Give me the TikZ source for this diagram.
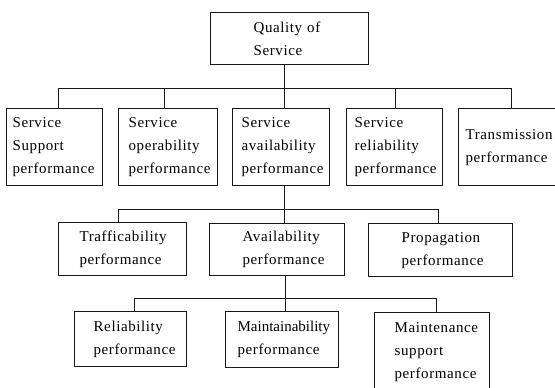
\documentclass[tikz,border=0pt]{standalone}
\usepackage{fontspec}
\setmainfont{Liberation Serif}[LetterSpace=4,Ligatures=NoCommon]
\begin{document}
\begin{tikzpicture}[x=1pt,y=1pt,
  box/.style={draw=black!90, line width=1.3pt, align=left, anchor=north west,
    inner ysep=0pt, font=\fontsize{15}{23}\selectfont, text=black},
  link/.style={draw=black!90, line width=1.1pt}]
\useasboundingbox (0,0) rectangle (555,-388);

% top level
\node[box, minimum width=158, minimum height=52, text width=72, inner xsep=43] (Q) at (210,-12) {Quality of\\Service};

% first level
\node[box, minimum width=96, minimum height=77, text width=84, inner xsep=6] (S1) at (6,-108) {Service\\Support\\performance};
\node[box, minimum width=99, minimum height=77, text width=79, inner xsep=10] (S2) at (118,-108) {Service\\operability\\performance};
\node[box, minimum width=97, minimum height=77, text width=79, inner xsep=9] (S3) at (232,-108) {Service\\availability\\performance};
\node[box, minimum width=96, minimum height=77, text width=80, inner xsep=8] (S4) at (346,-108) {Service\\reliability\\performance};
\node[box, minimum width=104, minimum height=77, text width=90, inner xsep=7] (S5) at (458,-108) {Transmission\\performance};

% second level
\node[box, minimum width=128, minimum height=53, text width=86, inner xsep=21] (A) at (58,-222) {Trafficability\\performance};
\node[box, minimum width=135, minimum height=52, text width=69, inner xsep=33] (B) at (209,-223) {Availability\\performance};
\node[box, minimum width=144, minimum height=53, text width=78, inner xsep=33] (C) at (368,-223) {Propagation\\performance};

% third level
\node[box, minimum width=112, minimum height=55, text width=74, inner xsep=19] (R) at (74,-311) {Reliability\\performance};
\node[box, minimum width=113, minimum height=56, text width=89, inner xsep=12] (M) at (225,-311) {{\addfontfeature{LetterSpace=0}Maintainability}\\performance};
\node[box, minimum width=115, minimum height=78, text width=75, inner xsep=20] (MS) at (374,-312) {Maintenance\\support\\performance};

% connectors: Quality of Service to first level
\draw[link] ([xshift=-5]Q.south) -- ++(0,-23) -| ([xshift=4]S1.north);
\draw[link] ([xshift=-5]Q.south) -- ++(0,-23) -| ([xshift=-3.5]S2.north);
\draw[link] ([xshift=-5]Q.south) -- ([xshift=3.5]S3.north);
\draw[link] ([xshift=-5]Q.south) -- ++(0,-23) -| ([xshift=1]S4.north);
\draw[link] ([xshift=-5]Q.south) -- ++(0,-23) -| ([xshift=1]S5.north);

% service availability to second level
\draw[link] ([xshift=3.5]S3.south) -- ++(0,-23) -| ([xshift=-4]A.north);
\draw[link] ([xshift=3.5]S3.south) -- ([xshift=7.5]B.north);
\draw[link] ([xshift=3.5]S3.south) -- ++(0,-23) -| ([xshift=-2]C.north);

% availability to third level
\draw[link] ([xshift=8]B.south) -- ++(0,-22) -| ([xshift=4]R.north);
\draw[link] ([xshift=8]B.south) -- ([xshift=3]M.north);
\draw[link] ([xshift=8]B.south) -- ++(0,-22) -| ([xshift=4.5]MS.north);
\end{tikzpicture}
\end{document}
